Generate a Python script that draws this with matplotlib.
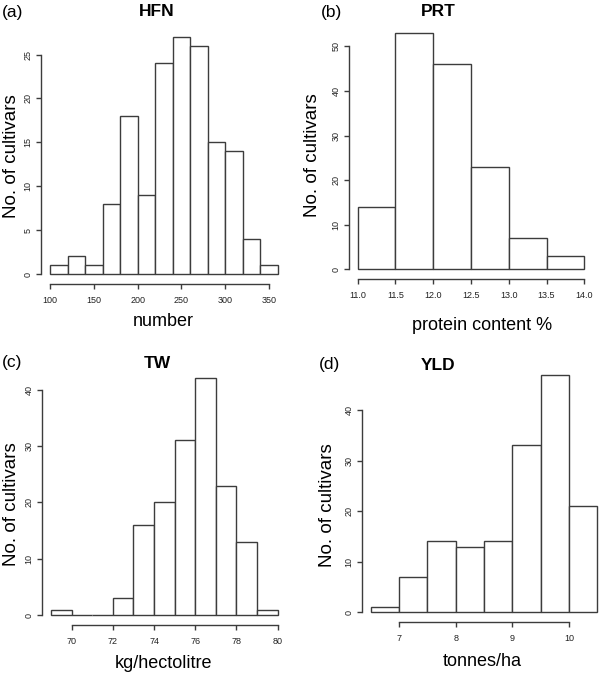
import numpy as np
import matplotlib
matplotlib.use("Agg")
import matplotlib.pyplot as plt

plt.rcParams['font.family'] = ['Liberation Sans', 'DejaVu Sans']

# ---- data ----
hfn_edges = [100, 120, 140, 160, 180, 200, 220, 240, 260, 280, 300, 320, 340, 360]
hfn_counts = [1, 2, 1, 8, 18, 9, 24, 27, 26, 15, 14, 4, 1]
hfn_xticks = [100, 150, 200, 250, 300, 350]
hfn_yticks = [0, 5, 10, 15, 20, 25]

prt_edges = [11.0, 11.5, 12.0, 12.5, 13.0, 13.5, 14.0]
prt_counts = [14, 53, 46, 23, 7, 3]
prt_xticks = [11.0, 11.5, 12.0, 12.5, 13.0, 13.5, 14.0]
prt_yticks = [0, 10, 20, 30, 40, 50]

tw_edges = [69, 70, 71, 72, 73, 74, 75, 76, 77, 78, 79, 80]
tw_counts = [1, 0, 0, 3, 16, 20, 31, 42, 23, 13, 1]
tw_xticks = [70, 72, 74, 76, 78, 80]
tw_yticks = [0, 10, 20, 30, 40]

yld_edges = [6.5, 7.0, 7.5, 8.0, 8.5, 9.0, 9.5, 10.0, 10.5]
yld_counts = [1, 7, 14, 13, 14, 33, 47, 21]
yld_xticks = [7, 8, 9, 10]
yld_yticks = [0, 10, 20, 30, 40]

W, H = 600, 676
fig = plt.figure(figsize=(W / 100, H / 100), dpi=100)
fig.patch.set_facecolor('white')

EC = '#3c3c3c'

def px_axes(left, right, top, bottom):
    return fig.add_axes([left / W, 1 - bottom / H, (right - left) / W, (bottom - top) / H])

def panel(box, edges, counts, xticks, yticks, xfmt, letter, letter_xy, title, title_xy,
          xlabel, xlabel_xy, ylabel_xy):
    ax = px_axes(*box)
    edges = np.asarray(edges, dtype=float)
    counts = np.asarray(counts, dtype=float)
    ax.bar(edges[:-1], counts, width=np.diff(edges), align='edge',
           facecolor='white', edgecolor=EC, linewidth=1.0)
    r = edges[-1] - edges[0]
    ax.set_xlim(edges[0] - 0.04 * r, edges[-1] + 0.04 * r)
    m = counts.max()
    ax.set_ylim(-0.04 * m, m * 1.04)
    for s in ['top', 'right']:
        ax.spines[s].set_visible(False)
    for s in ['left', 'bottom']:
        ax.spines[s].set_color(EC)
        ax.spines[s].set_linewidth(1.0)
    ax.spines['bottom'].set_bounds(xticks[0], xticks[-1])
    ax.spines['left'].set_bounds(yticks[0], yticks[-1])
    ax.set_xticks(xticks)
    ax.set_xticklabels([xfmt(v) for v in xticks])
    ax.set_yticks(yticks)
    ax.set_yticklabels([str(v) for v in yticks])
    ax.tick_params(axis='both', length=3.4, width=1.0, color=EC, labelsize=6.5, labelcolor='#222222')
    ax.tick_params(axis='x', pad=5.5)
    ax.tick_params(axis='y', pad=2.5)
    plt.setp(ax.get_yticklabels(), rotation=90, va='center')
    ax.set_facecolor('none')
    fig.text(letter_xy[0] / W, 1 - letter_xy[1] / H, letter, fontsize=12.5, ha='center', va='center')
    fig.text(title_xy[0] / W, 1 - title_xy[1] / H, title, fontsize=12.5, fontweight='bold',
             ha='center', va='center')
    fig.text(xlabel_xy[0] / W, 1 - xlabel_xy[1] / H, xlabel, fontsize=13, ha='center', va='center')
    fig.text(ylabel_xy[0] / W, 1 - ylabel_xy[1] / H, 'No. of cultivars', fontsize=13.5,
             ha='center', va='center', rotation=90)
    return ax

panel((41, 286.8, 27.5, 283.5), hfn_edges, hfn_counts, hfn_xticks, hfn_yticks,
      lambda v: f"{v:d}", '(a)', (13, 12), 'HFN', (157, 12),
      'number', (163, 322), (11.5, 156))
panel((348.6, 593.4, 23.5, 278.8), prt_edges, prt_counts, prt_xticks, prt_yticks,
      lambda v: f"{v:.1f}", '(b)', (332, 12), 'PRT', (438, 12),
      'protein content %', (482, 325), (312.5, 155))
panel((42.0, 286.7, 368.9, 624.8), tw_edges, tw_counts, tw_xticks, tw_yticks,
      lambda v: f"{v:d}", '(c)', (12, 362), 'TW', (157, 363),
      'kg/hectolitre', (163, 663), (11.5, 504.5))
panel((361.6, 606.4, 365.1, 621.8), yld_edges, yld_counts, yld_xticks, yld_yticks,
      lambda v: f"{v:d}", '(d)', (330, 364), 'YLD', (438, 365),
      'tonnes/ha', (482, 662), (327.5, 505.5))

fig.savefig('out.png', dpi=100, facecolor='white')
